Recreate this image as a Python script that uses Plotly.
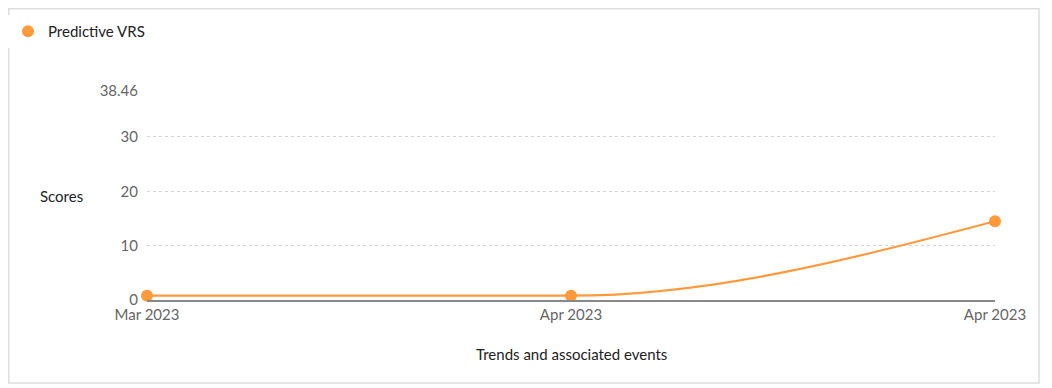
import plotly.graph_objects as go

categories = ["Mar 2023", "Apr 2023", "Apr 2023"]
x_pos = [0, 1, 2]
scores = [0.8, 0.8, 14.5]
y_ticks = [0, 10, 20, 30, 38.46]
y_tick_labels = ["0", "10", "20", "30", "38.46"]

ORANGE = "#FF9A3C"
FONT = "Lato, 'Open Sans', sans-serif"


def _sign(v):
    return (v > 0) - (v < 0)


def monotone_path(xs, ys):
    """Monotone-X cubic curve (as in d3.curveMonotoneX) built from the data points."""
    n = len(xs)
    secants = [(ys[i + 1] - ys[i]) / (xs[i + 1] - xs[i]) for i in range(n - 1)]
    tang = [0.0] * n
    for i in range(1, n - 1):
        h0, h1 = xs[i] - xs[i - 1], xs[i + 1] - xs[i]
        s0, s1 = secants[i - 1], secants[i]
        p = (s0 * h1 + s1 * h0) / (h0 + h1)
        tang[i] = (_sign(s0) + _sign(s1)) * min(abs(s0), abs(s1), 0.5 * abs(p))
    if n > 2:
        tang[0] = (3 * secants[0] - tang[1]) / 2
        tang[-1] = (3 * secants[-1] - tang[-2]) / 2
    else:
        tang[0] = tang[-1] = secants[0]
    path = f"M {xs[0]},{ys[0]}"
    for i in range(n - 1):
        dx = (xs[i + 1] - xs[i]) / 3
        path += (f" C {xs[i] + dx},{ys[i] + dx * tang[i]}"
                 f" {xs[i + 1] - dx},{ys[i + 1] - dx * tang[i + 1]}"
                 f" {xs[i + 1]},{ys[i + 1]}")
    return path


fig = go.Figure()
fig.add_shape(type="path", xref="x", yref="y", path=monotone_path(x_pos, scores),
              line=dict(color=ORANGE, width=2.2), layer="between")
fig.add_trace(go.Scatter(
    x=x_pos, y=scores, mode="markers", name="Predictive VRS",
    marker=dict(color=ORANGE, size=12),
    cliponaxis=False,
))

OFF = 8  # default page body margin
W, H = 1052 - OFF, 388 - OFF
L, T = 147 - OFF, 91 - OFF
R = W - (995 - OFF)
B = H - (300 - OFF)
pw, ph = W - L - R, H - T - B


def px(xp):
    return (xp - OFF - L) / pw


def py(yp):
    return (H - B - (yp - OFF)) / ph


fig.add_shape(type="rect", xref="paper", yref="paper",
              x0=px(8.8), x1=px(1039), y0=py(383), y1=py(8.8),
              line=dict(color="#DDDDDD", width=1.5), fillcolor="rgba(0,0,0,0)", layer="below")

fig.add_annotation(xref="paper", yref="paper", x=px(38), y=py(196), text="Scores",
                   showarrow=False, xanchor="left", yanchor="middle",
                   font=dict(family=FONT, size=15, color="#222222"))
fig.add_annotation(xref="paper", yref="paper", x=0.5, y=py(354), text="Trends and associated events",
                   showarrow=False, xanchor="center", yanchor="middle",
                   font=dict(family=FONT, size=15, color="#222222"))

fig.update_layout(
    width=W, height=H,
    margin=dict(l=L, r=R, t=T, b=B, autoexpand=False),
    paper_bgcolor="white", plot_bgcolor="white",
    font=dict(family=FONT, size=15, color="#666666"),
    showlegend=True,
    legend=dict(x=px(8), y=py(15), xanchor="left", yanchor="top",
                font=dict(family=FONT, size=15, color="#222222"),
                itemsizing="constant"),
    xaxis=dict(range=[0, 2], tickvals=x_pos, ticktext=categories,
               showgrid=False, zeroline=False, showline=True, linecolor="#888888", linewidth=1.5,
               ticks="", tickfont=dict(size=15, color="#666666"), fixedrange=True),
    yaxis=dict(range=[0, 38.46], tickvals=y_ticks, ticktext=y_tick_labels,
               showgrid=True, gridcolor="#D6D6D6", griddash="dot", gridwidth=1,
               zeroline=False, showline=False, ticks="", ticklabelstandoff=8,
               tickfont=dict(size=15, color="#666666"), fixedrange=True),
)

fig.write_html("out.html")
